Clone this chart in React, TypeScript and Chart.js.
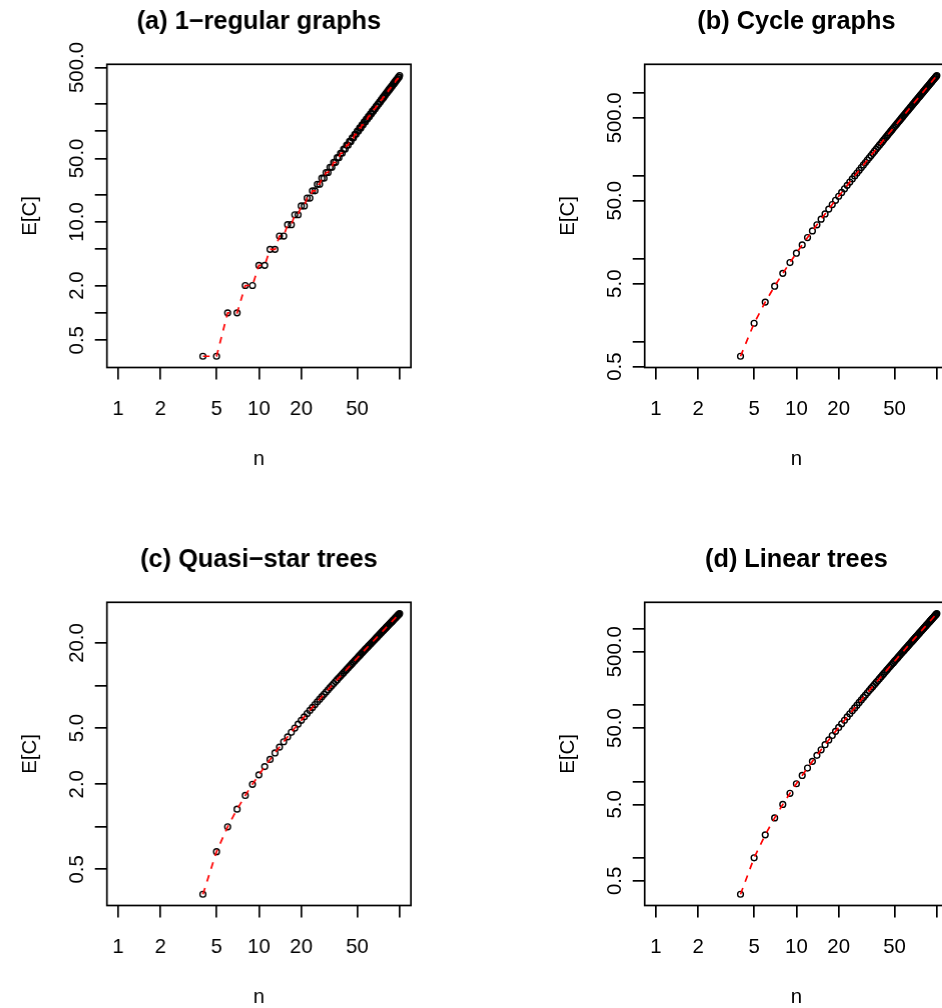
import React, { useEffect, useRef } from "react";
import { Chart, registerables } from "chart.js";

Chart.register(...registerables);

// ---------- data ----------
const N = [
  4, 5, 6, 7, 8, 9, 10, 11, 12, 13, 14, 15, 16, 17, 18, 19, 20, 21, 22, 23, 24, 25, 26, 27, 28, 29, 30,
  31, 32, 33, 34, 35, 36, 37, 38, 39, 40, 41, 42, 43, 44, 45, 46, 47, 48, 49, 50, 51, 52, 53, 54, 55,
  56, 57, 58, 59, 60, 61, 62, 63, 64, 65, 66, 67, 68, 69, 70, 71, 72, 73, 74, 75, 76, 77, 78, 79, 80,
  81, 82, 83, 84, 85, 86, 87, 88, 89, 90, 91, 92, 93, 94, 95, 96, 97, 98, 99, 100,
];

const REGULAR1 = [
  0.333, 0.333, 1, 1, 2, 2, 3.333, 3.333, 5, 5, 7, 7, 9.333, 9.333, 12, 12, 15, 15, 18.333, 18.333,
  22, 22, 26, 26, 30.333, 30.333, 35, 35, 40, 40, 45.333, 45.333, 51, 51, 57, 57, 63.333, 63.333,
  70, 70, 77, 77, 84.333, 84.333, 92, 92, 100, 100, 108.333, 108.333, 117, 117, 126, 126,
  135.333, 135.333, 145, 145, 155, 155, 165.333, 165.333, 176, 176, 187, 187, 198.333, 198.333,
  210, 210, 222, 222, 234.333, 234.333, 247, 247, 260, 260, 273.333, 273.333, 287, 287, 301, 301,
  315.333, 315.333, 330, 330, 345, 345, 360.333, 360.333, 376, 376, 392, 392, 408.333,
];

const CYCLE = [
  0.667, 1.667, 3, 4.667, 6.667, 9, 11.667, 14.667, 18, 21.667, 25.667, 30, 34.667, 39.667, 45,
  50.667, 56.667, 63, 69.667, 76.667, 84, 91.667, 99.667, 108, 116.667, 125.667, 135, 144.667,
  154.667, 165, 175.667, 186.667, 198, 209.667, 221.667, 234, 246.667, 259.667, 273, 286.667,
  300.667, 315, 329.667, 344.667, 360, 375.667, 391.667, 408, 424.667, 441.667, 459, 476.667,
  494.667, 513, 531.667, 550.667, 570, 589.667, 609.667, 630, 650.667, 671.667, 693, 714.667,
  736.667, 759, 781.667, 804.667, 828, 851.667, 875.667, 900, 924.667, 949.667, 975, 1000.667,
  1026.667, 1053, 1079.667, 1106.667, 1134, 1161.667, 1189.667, 1218, 1246.667, 1275.667, 1305,
  1334.667, 1364.667, 1395, 1425.667, 1456.667, 1488, 1519.667, 1551.667, 1584, 1616.667,
];

const QUASI_STAR = [
  0.333, 0.667, 1, 1.333, 1.667, 2, 2.333, 2.667, 3, 3.333, 3.667, 4, 4.333, 4.667, 5, 5.333, 5.667,
  6, 6.333, 6.667, 7, 7.333, 7.667, 8, 8.333, 8.667, 9, 9.333, 9.667, 10, 10.333, 10.667, 11, 11.333,
  11.667, 12, 12.333, 12.667, 13, 13.333, 13.667, 14, 14.333, 14.667, 15, 15.333, 15.667, 16, 16.333,
  16.667, 17, 17.333, 17.667, 18, 18.333, 18.667, 19, 19.333, 19.667, 20, 20.333, 20.667, 21, 21.333,
  21.667, 22, 22.333, 22.667, 23, 23.333, 23.667, 24, 24.333, 24.667, 25, 25.333, 25.667, 26, 26.333,
  26.667, 27, 27.333, 27.667, 28, 28.333, 28.667, 29, 29.333, 29.667, 30, 30.333, 30.667, 31, 31.333,
  31.667, 32, 32.333,
];

const LINEAR = [
  0.333, 1, 2, 3.333, 5, 7, 9.333, 12, 15, 18.333, 22, 26, 30.333, 35, 40, 45.333, 51, 57, 63.333, 70,
  77, 84.333, 92, 100, 108.333, 117, 126, 135.333, 145, 155, 165.333, 176, 187, 198.333, 210, 222,
  234.333, 247, 260, 273.333, 287, 301, 315.333, 330, 345, 360.333, 376, 392, 408.333, 425, 442,
  459.333, 477, 495, 513.333, 532, 551, 570.333, 590, 610, 630.333, 651, 672, 693.333, 715, 737,
  759.333, 782, 805, 828.333, 852, 876, 900.333, 925, 950, 975.333, 1001, 1027, 1053.333, 1080, 1107,
  1134.333, 1162, 1190, 1218.333, 1247, 1276, 1305.333, 1335, 1365, 1395.333, 1426, 1457, 1488.333,
  1520, 1552, 1584.333,
];

const X_LIM = [1, 100];
const X_TICKS = [1, 2, 5, 10, 20, 50, 100];
const X_TICK_LABELS = ["1", "2", "5", "10", "20", "50", ""];

const Y_TICKS_A = [0.5, 1, 2, 5, 10, 20, 50, 100, 200, 500];
const Y_LABELS_A = ["0.5", "", "2.0", "", "10.0", "", "50.0", "", "", "500.0"];
const Y_TICKS_B = [0.5, 1, 5, 10, 50, 100, 500, 1000];
const Y_LABELS_B = ["0.5", "", "5.0", "", "50.0", "", "500.0", ""];
const Y_TICKS_C = [0.5, 1, 2, 5, 10, 20];
const Y_LABELS_C = ["0.5", "", "2.0", "5.0", "", "20.0"];
const Y_TICKS_D = [0.5, 1, 5, 10, 50, 100, 500, 1000];
const Y_LABELS_D = ["0.5", "", "5.0", "", "50.0", "", "500.0", ""];

const TITLES = [
  "(a) 1\u2212regular graphs",
  "(b) Cycle graphs",
  "(c) Quasi\u2212star trees",
  "(d) Linear trees",
];
const X_LABEL = "n";
const Y_LABEL = "E[C]";

// ---------- layout ----------
const FONT = "'Liberation Sans', Arial, Helvetica, sans-serif";
const PANEL_W = 537.6;
const PANEL_H = 538;
const BOX_LEFT = 106.7;
const BOX_TOP = 64.3;
const BOX_W = 304;
const BOX_BOTTOM = 367.5;

function logLim(lo: number, hi: number): [number, number] {
  const a = Math.log10(lo);
  const b = Math.log10(hi);
  const d = (b - a) * 0.04;
  return [Math.pow(10, a - d), Math.pow(10, b + d)];
}

type PanelCfg = {
  title: string;
  y: number[];
  yTicks: number[];
  yLabels: string[];
};

const PANELS: PanelCfg[] = [
  { title: TITLES[0], y: REGULAR1, yTicks: Y_TICKS_A, yLabels: Y_LABELS_A },
  { title: TITLES[1], y: CYCLE, yTicks: Y_TICKS_B, yLabels: Y_LABELS_B },
  { title: TITLES[2], y: QUASI_STAR, yTicks: Y_TICKS_C, yLabels: Y_LABELS_C },
  { title: TITLES[3], y: LINEAR, yTicks: Y_TICKS_D, yLabels: Y_LABELS_D },
];

function Panel({ cfg, left, top }: { cfg: PanelCfg; left: number; top: number }) {
  const ref = useRef<HTMLCanvasElement>(null);

  useEffect(() => {
    if (!ref.current) return;
    const [xmin, xmax] = logLim(X_LIM[0], X_LIM[1]);
    const [ymin, ymax] = logLim(Math.min(...cfg.y), Math.max(...cfg.y));
    const pts = N.map((n, i) => ({ x: n, y: cfg.y[i] }));

    const rPlugin = {
      id: "rstyle",
      afterDraw(chart: any) {
        const ctx = chart.ctx as CanvasRenderingContext2D;
        const a = chart.chartArea;
        const xs = chart.scales.x;
        const ys = chart.scales.y;
        ctx.save();
        ctx.strokeStyle = "#000";
        ctx.lineWidth = 1.7;
        ctx.strokeRect(a.left, a.top, a.right - a.left, a.bottom - a.top);
        ctx.fillStyle = "#000";
        ctx.font = `20.4px ${FONT}`;
        ctx.textAlign = "center";
        ctx.textBaseline = "alphabetic";
        X_TICKS.forEach((v, i) => {
          const l = X_TICK_LABELS[i];
          if (l) ctx.fillText(l, xs.getPixelForValue(v), a.bottom + 47.5);
        });
        cfg.yTicks.forEach((v, i) => {
          const l = cfg.yLabels[i];
          if (!l) return;
          ctx.save();
          ctx.translate(a.left - 23.7, ys.getPixelForValue(v));
          ctx.rotate(-Math.PI / 2);
          ctx.fillText(l, 0, 0);
          ctx.restore();
        });
        ctx.fillText(X_LABEL, (a.left + a.right) / 2, a.bottom + 97);
        ctx.save();
        ctx.translate(a.left - 71, (a.top + a.bottom) / 2);
        ctx.rotate(-Math.PI / 2);
        ctx.fillText(Y_LABEL, 0, 0);
        ctx.restore();
        ctx.font = `bold 25.3px ${FONT}`;
        ctx.fillText(cfg.title, (a.left + a.right) / 2, a.top - 35);
        ctx.restore();
      },
    };

    const grid = {
      display: true,
      drawOnChartArea: false,
      drawTicks: true,
      tickLength: 12,
      color: "#000",
      lineWidth: 1.7,
    };

    const chart = new Chart(ref.current, {
      type: "line",
      data: {
        datasets: [
          {
            data: pts,
            borderColor: "#FF0000",
            borderWidth: 1.7,
            borderDash: [6.7, 6.7],
            pointRadius: 0,
            fill: false,
            tension: 0,
            order: 0,
          },
          {
            data: pts,
            showLine: false,
            pointRadius: 2.9,
            pointBorderWidth: 1.4,
            pointBorderColor: "#000",
            pointBackgroundColor: "rgba(0,0,0,0)",
            order: 1,
          },
        ],
      },
      options: {
        animation: false,
        responsive: false,
        events: [],
        layout: {
          padding: { top: BOX_TOP, left: 0, right: PANEL_W - BOX_LEFT - BOX_W, bottom: 0 },
        },
        plugins: {
          legend: { display: false },
          tooltip: { enabled: false },
          title: { display: false },
        },
        scales: {
          x: {
            type: "logarithmic",
            position: "bottom",
            min: xmin,
            max: xmax,
            grid,
            border: { display: false },
            ticks: { display: false },
            afterBuildTicks: (s: any) => {
              s.ticks = X_TICKS.map((v) => ({ value: v }));
            },
            afterFit: (s: any) => {
              s.height = PANEL_H - BOX_BOTTOM;
            },
          },
          y: {
            type: "logarithmic",
            position: "left",
            min: ymin,
            max: ymax,
            grid,
            border: { display: false },
            ticks: { display: false },
            afterBuildTicks: (s: any) => {
              s.ticks = cfg.yTicks.map((v) => ({ value: v }));
            },
            afterFit: (s: any) => {
              s.width = BOX_LEFT;
            },
          },
        },
      } as any,
      plugins: [rPlugin],
    });
    return () => chart.destroy();
  }, [cfg]);

  return (
    <div style={{ position: "absolute", left, top, width: PANEL_W, height: PANEL_H }}>
      <canvas
        ref={ref}
        width={PANEL_W}
        height={PANEL_H}
        style={{ display: "block", width: PANEL_W, height: PANEL_H }}
      />
    </div>
  );
}

export default function App() {
  return (
    <div
      style={{
        position: "fixed",
        left: 0,
        top: 0,
        width: 942,
        height: 1008,
        overflow: "hidden",
        background: "#fff",
      }}
    >
      <Panel cfg={PANELS[0]} left={0} top={0} />
      <Panel cfg={PANELS[1]} left={PANEL_W} top={0} />
      <Panel cfg={PANELS[2]} left={0} top={PANEL_H} />
      <Panel cfg={PANELS[3]} left={PANEL_W} top={PANEL_H} />
    </div>
  );
}
